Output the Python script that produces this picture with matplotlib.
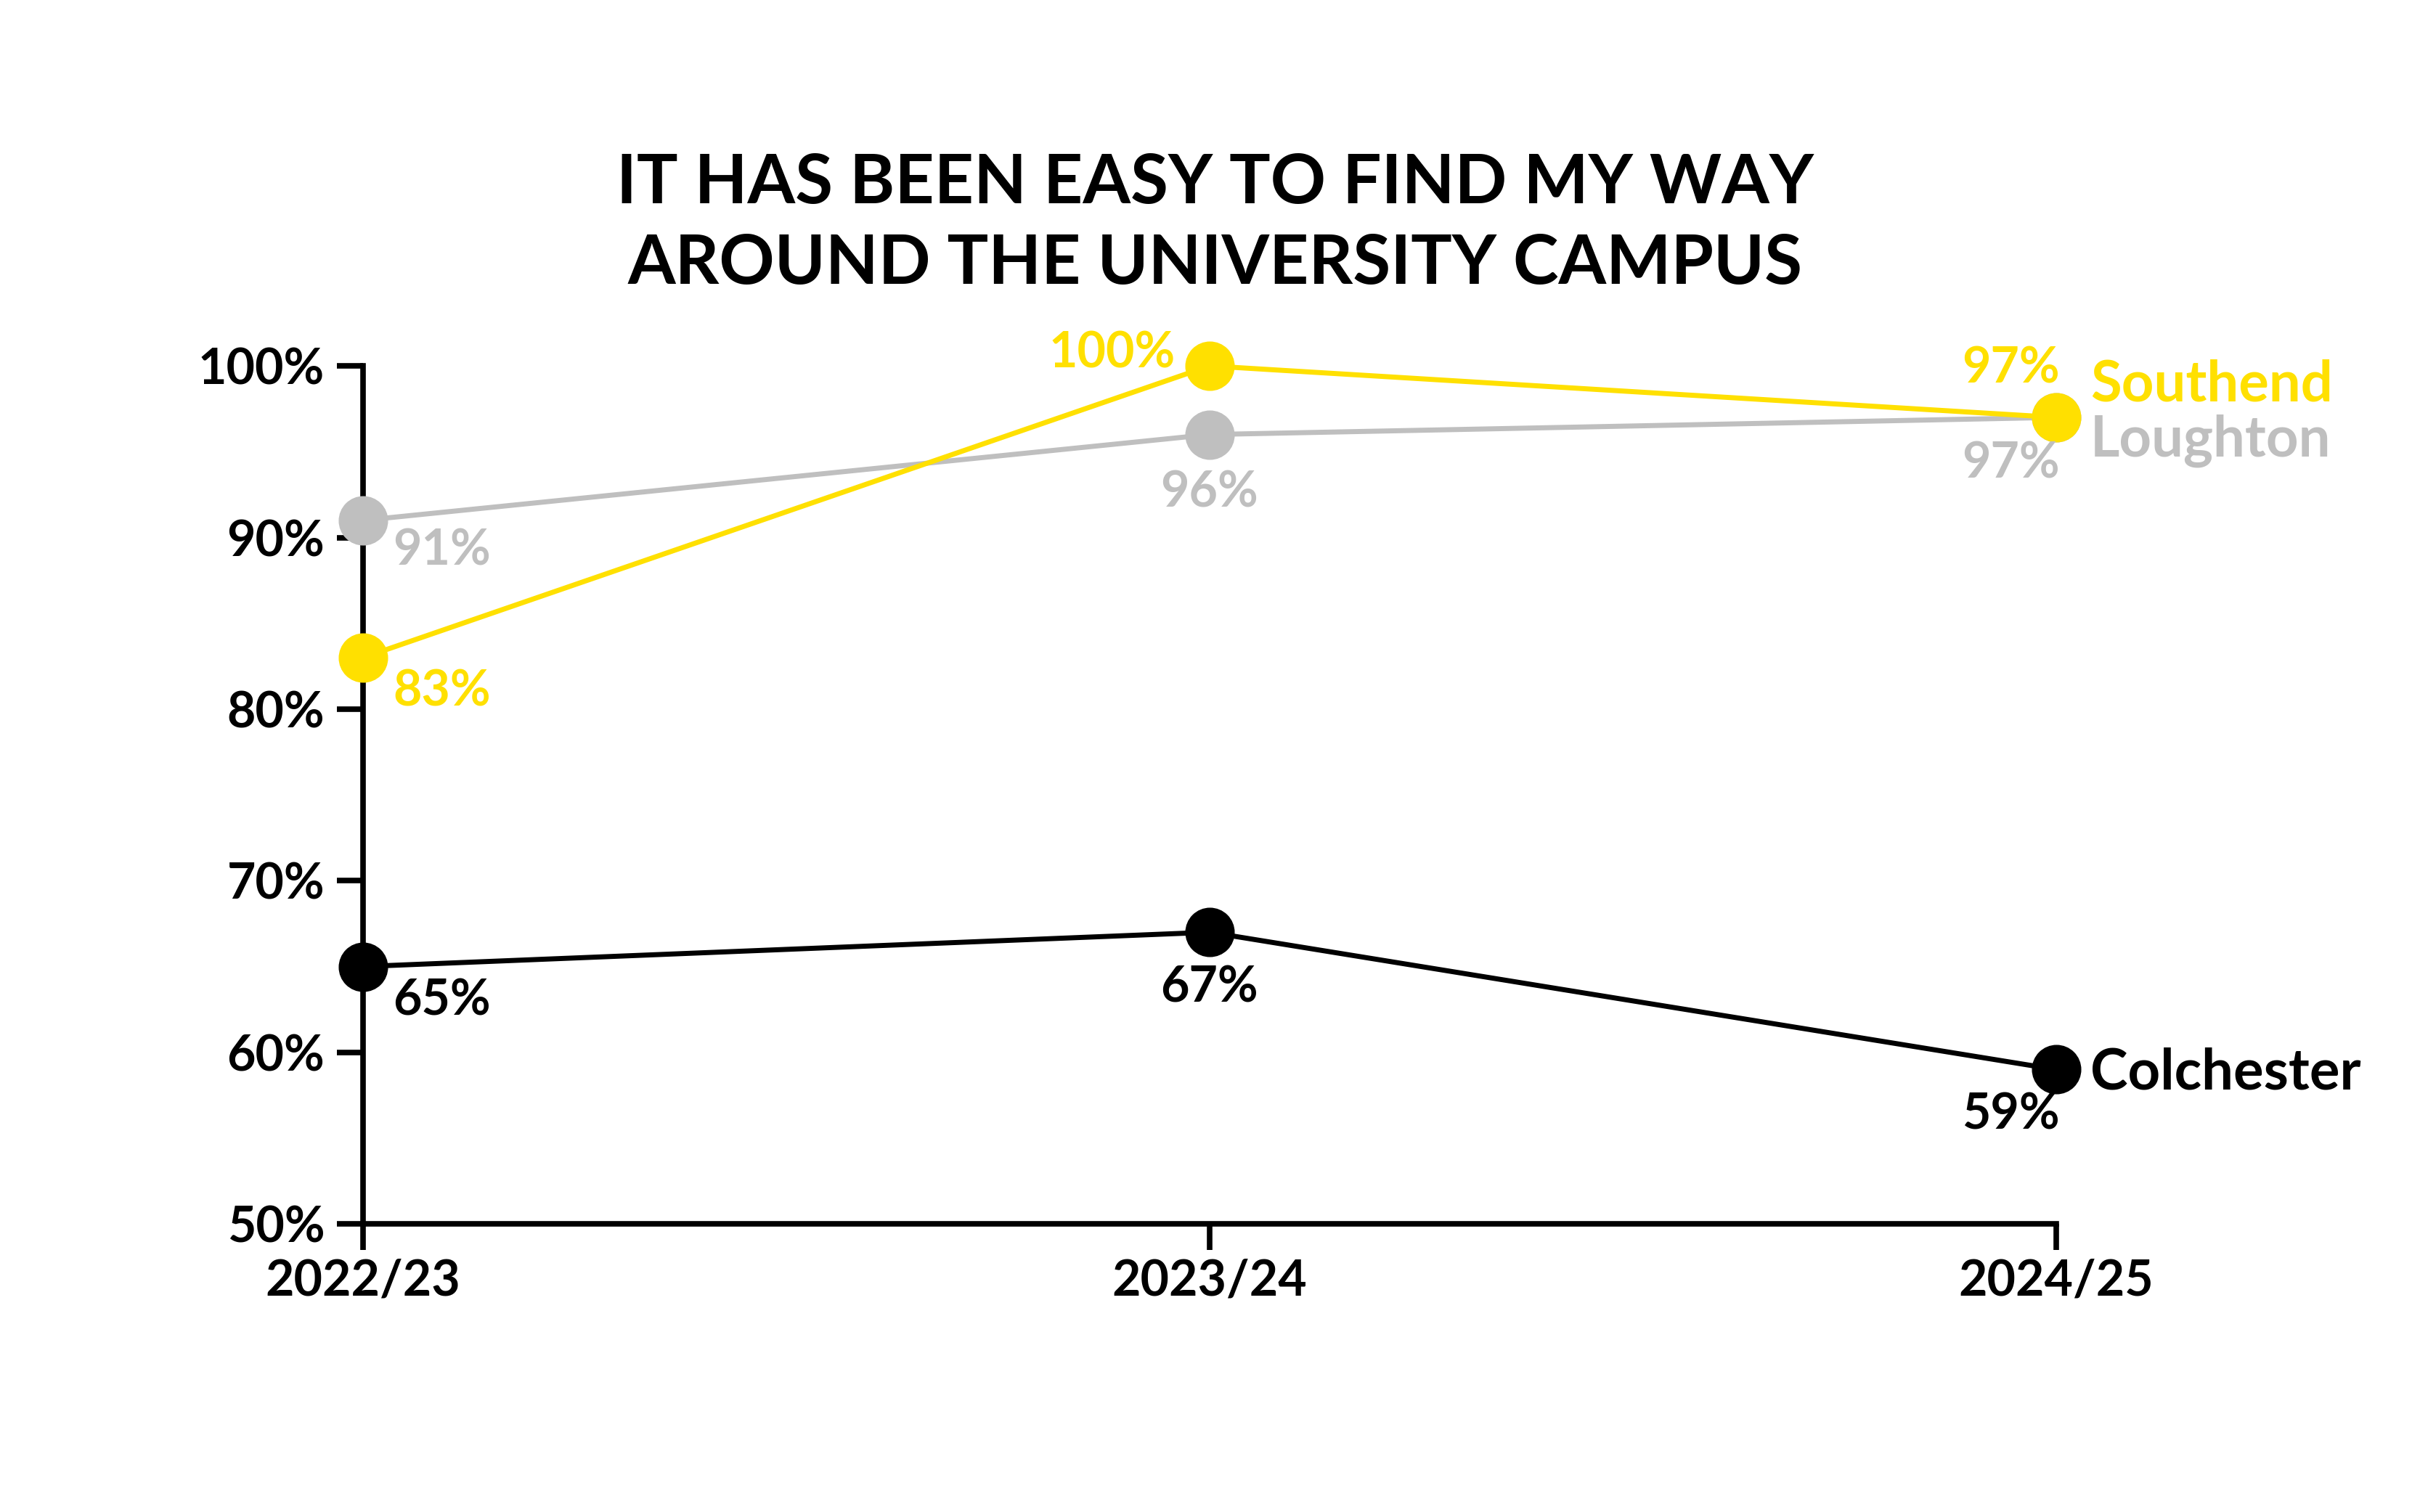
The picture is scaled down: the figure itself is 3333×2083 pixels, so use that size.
import matplotlib
matplotlib.use("Agg")
import matplotlib.pyplot as plt

# chart data
years = ["2022/23", "2023/24", "2024/25"]
colchester = [65, 67, 59]
loughton = [91, 96, 97]
southend = [83, 100, 97]
y_ticks = [50, 60, 70, 80, 90, 100]
title = "IT HAS BEEN EASY TO FIND MY WAY\nAROUND THE UNIVERSITY CAMPUS"

YELLOW = "#FFE000"
GREY = "#BFBFBF"
BLACK = "#000000"

plt.rcParams['font.family'] = ['Lato', 'DejaVu Sans']
plt.rcParams['font.weight'] = 'bold'

fig = plt.figure(figsize=(33.33, 20.83), dpi=100)
ax = fig.add_axes([0.1500, 0.1905, 0.6996, 0.5675])

x = list(range(len(years)))
for vals, col in [(colchester, BLACK), (loughton, GREY), (southend, YELLOW)]:
    ax.plot(x, vals, color=col, lw=5, marker='o', ms=48, clip_on=False, zorder=3)

ax.set_xlim(0, 2)
ax.set_ylim(50, 100)
ax.set_xticks(x)
ax.set_xticklabels(years)
ax.set_yticks(y_ticks)
ax.set_yticklabels([f"{v}%" for v in y_ticks])
for s in ['top', 'right']:
    ax.spines[s].set_visible(False)
for s in ['left', 'bottom']:
    ax.spines[s].set_linewidth(5.5)
ax.tick_params(axis='both', length=26, width=5.5, labelsize=49)
ax.tick_params(axis='y', pad=12)
ax.tick_params(axis='x', pad=8)
for lbl in ax.get_xticklabels() + ax.get_yticklabels():
    lbl.set_fontweight('bold')

# data labels
fs = 49
def lab(vals, col, i, dx, dy, ha):
    ax.annotate(f"{vals[i]}%", (x[i], vals[i]), xytext=(dx, dy), textcoords='offset points',
                ha=ha, va='center', color=col, fontsize=fs, fontweight='bold', zorder=4)

lab(colchester, BLACK, 0, 30, -34, 'left')
lab(colchester, BLACK, 1, 0, -55, 'center')
lab(colchester, BLACK, 2, -45, -45, 'center')
lab(loughton, GREY, 0, 30, -30, 'left')
lab(loughton, GREY, 1, 0, -58, 'center')
lab(loughton, GREY, 2, -45, -46, 'center')
lab(southend, YELLOW, 0, 30, -34, 'left')
lab(southend, YELLOW, 1, -34, 12, 'right')
lab(southend, YELLOW, 2, -45, 48, 'center')

# series names
for vals, col, name, dy in [(southend, YELLOW, "Southend", 32), (loughton, GREY, "Loughton", -23),
                            (colchester, BLACK, "Colchester", -4)]:
    ax.annotate(name, (x[-1], vals[-1]), xytext=(34, dy), textcoords='offset points',
                ha='left', va='center', color=col, fontsize=56, fontweight='bold')

fig.text(0.502, 0.852, title, ha='center', va='center', fontsize=68, fontweight='bold',
         linespacing=1.36)

fig.savefig("out.png", dpi=100, facecolor='white')
